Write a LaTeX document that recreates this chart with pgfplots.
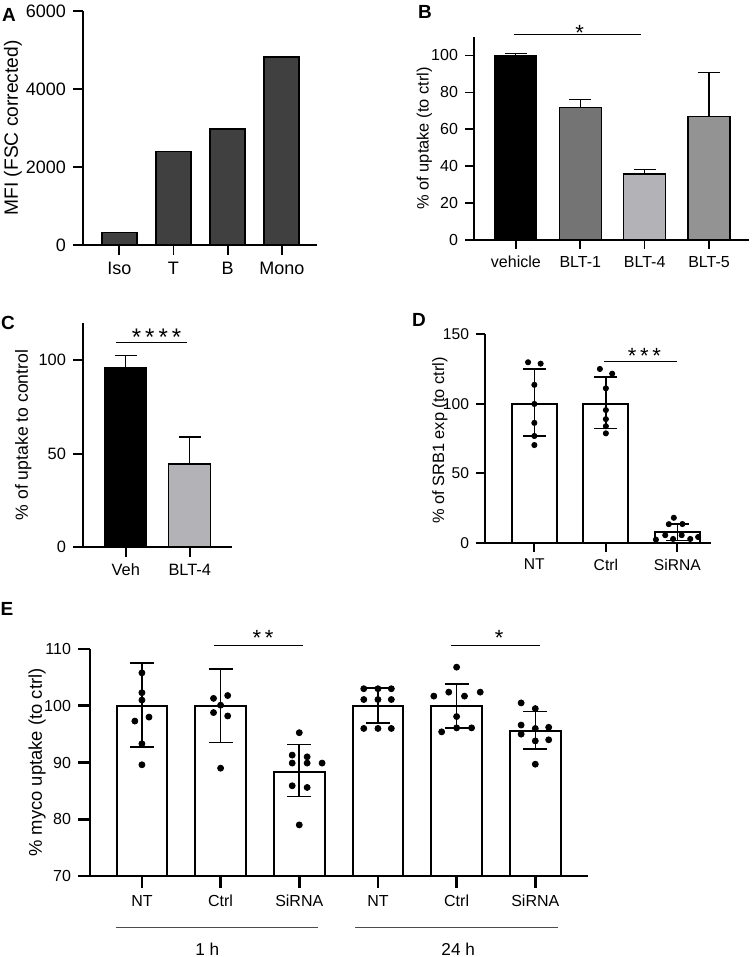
\documentclass[border=0pt]{standalone}
\usepackage{fontspec}
\setmainfont{Liberation Sans}
\usepackage{pgfplots}
\pgfplotsset{compat=1.18}
\newcommand{\fs}[1]{\fontsize{#1}{#1}\selectfont}
\definecolor{barA}{HTML}{404040}
\definecolor{blt1}{HTML}{747474}
\definecolor{blt4}{HTML}{B3B3B7}
\definecolor{blt5}{HTML}{939393}
\pgfplotsset{
  base/.style={
    scale only axis, axis lines=left, clip=false, enlargelimits=false,
    axis line style={-, black, line width=#1},
    tick style={black, line width=#1},
    tick align=outside,
    /pgf/number format/assume math mode=true,
    /pgf/number format/set thousands separator={},
    ylabel style={anchor=center},
  },
  onesided/.style={ybar, bar width=21pt, bar shift=0pt, draw=black, line width=0.6pt,
    error bars/y dir=plus, error bars/y explicit,
    error bars/error bar style={black, line width=0.6pt},
    error bars/error mark options={rotate=90, black, line width=0.6pt, mark size=5.5pt}},
}
\begin{document}
\begin{tikzpicture}
\path[use as bounding box] (0,0) rectangle (377pt,478.5pt);

% ---------- A ----------
\begin{axis}[base=0.9pt, at={(41.5pt,356pt)}, anchor=south west,
  width=117pt, height=117pt, major tick length=5pt,
  xmin=-0.67, xmax=3.65, ymin=0, ymax=6000,
  xtick={0,1,2,3}, xticklabels={Iso,T,B,Mono},
  ytick={0,2000,4000,6000},
  tick label style={font=\fs{9}},
  ylabel={MFI (FSC corrected)},
  ylabel style={at={(axis description cs:-0.30,0.5)}, font=\fs{9.6}}]
\addplot[ybar, bar width=17.5pt, bar shift=0pt, fill=barA, draw=black, line width=0.8pt]
  coordinates {(0,320) (1,2400) (2,2980) (3,4820)};
\end{axis}

% ---------- B ----------
\begin{axis}[base=0.8pt, at={(237pt,358.5pt)}, anchor=south west,
  width=137.5pt, height=101.5pt, major tick length=4.5pt,
  xmin=-0.65, xmax=3.62, ymin=0, ymax=110,
  xtick={0,1,2,3}, xticklabels={vehicle,BLT-1,BLT-4,BLT-5},
  ytick={0,20,40,60,80,100},
  tick label style={font=\fs{8}},
  ylabel={\% of uptake (to ctrl)},
  ylabel style={at={(axis description cs:-0.18,0.5)}, font=\fs{8.2}}]
\addplot[onesided, fill=black] coordinates {(0,100) +- (0,0.9)};
\addplot[onesided, fill=blt1] coordinates {(1,71.8) +- (0,4.5)};
\addplot[onesided, fill=blt4] coordinates {(2,35.8) +- (0,2.2)};
\addplot[onesided, fill=blt5] coordinates {(3,66.9) +- (0,23.7)};
\draw[black, line width=0.5pt] (axis cs:-0.03,111.2) -- (axis cs:1.95,111.2);
\node[anchor=base, font=\fs{11}] at (axis cs:0.99,108.1) {*};
\end{axis}

% ---------- C ----------
\begin{axis}[base=0.9pt, at={(41.5pt,205pt)}, anchor=south west,
  width=74.5pt, height=112pt, major tick length=5pt,
  xmin=-0.67, xmax=1.66, ymin=0, ymax=120,
  xtick={0,1}, xticklabels={Veh,BLT-4},
  ytick={0,50,100},
  tick label style={font=\fs{8.2}},
  ylabel={\% of uptake to control},
  ylabel style={at={(axis description cs:-0.40,0.5)}, font=\fs{8.8}}]
\addplot[onesided, fill=black] coordinates {(0,96.2) +- (0,6.3)};
\addplot[onesided, fill=blt4] coordinates {(1,44.5) +- (0,14.4)};
\draw[black, line width=0.5pt] (axis cs:-0.16,109.6) -- (axis cs:0.95,109.6);
\node[anchor=base, font=\fs{12}] at (axis cs:0.48,108.1) {*\,*\,*\,*};
\end{axis}

% ---------- D ----------
\begin{axis}[base=1.1pt, at={(242.5pt,207pt)}, anchor=south west,
  width=113pt, height=104.5pt, major tick length=4.5pt,
  xmin=-0.69, xmax=2.47, ymin=0, ymax=150,
  xtick={0,1,2}, xticklabels={NT,Ctrl,SiRNA},
  ytick={0,50,100,150},
  tick label style={font=\fs{7.8}},
  ylabel={\% of SRB1 exp (to ctrl)},
  ylabel style={at={(axis description cs:-0.20,0.49)}, font=\fs{8.2}}]
\addplot[ybar, bar width=22.5pt, bar shift=0pt, fill=white, draw=black, line width=0.9pt,
  error bars/y dir=both, error bars/y explicit,
  error bars/error bar style={black, line width=0.8pt},
  error bars/error mark options={rotate=90, black, line width=0.8pt, mark size=5.8pt}]
  coordinates {(0,100) += (0,24.9) -= (0,23.2)
               (1,100) += (0,19.1) -= (0,17.9)
               (2,7.66) += (0,5.8) -= (0,5.8)};
\addplot[only marks, mark=*, mark size=1.3pt, black] coordinates {
  (-0.088,129.7) (0.088,128.7) (0,113.5) (0,99.8) (0,86.2) (0,76.8) (0,70.3)
  (0.916,124.9) (1.088,121.5) (1,111) (1,95.4) (1,88.9) (1,83.8) (1,78.7)
  (1.70,2.4) (1.83,5.6) (1.94,2.9) (2.06,5.6) (2.18,2.9) (2.29,4.3)
  (1.88,13.5) (2.07,13.6) (1.95,18.1)};
\draw[black, line width=0.5pt] (axis cs:0.98,129.9) -- (axis cs:2.0,129.9);
\node[anchor=base, font=\fs{11}] at (axis cs:1.54,128.6) {*\,*\,*};
\end{axis}

% ---------- E ----------
\begin{axis}[base=1.3pt, at={(45pt,40.5pt)}, anchor=south west,
  width=249pt, height=113.5pt, major tick length=6pt,
  clip=true, clip mode=individual,
  xmin=-0.66, xmax=5.67, ymin=70, ymax=110,
  xtick={0,1,2,3,4,5}, xticklabels={NT,Ctrl,SiRNA,NT,Ctrl,SiRNA},
  ytick={70,80,90,100,110},
  tick label style={font=\fs{8}},
  ylabel={\% myco uptake (to ctrl)},
  ylabel style={at={(axis description cs:-0.106,0.5)}, font=\fs{9.2}}]
\addplot[ybar, bar width=25.3pt, bar shift=0pt, fill=white, draw=black, line width=1pt,
  error bars/y dir=both, error bars/y explicit,
  error bars/error bar style={black, line width=0.8pt},
  error bars/error mark options={rotate=90, black, line width=0.8pt, mark size=6pt}]
  coordinates {(0,100) += (0,7.5) -= (0,7.3)
               (1,100) += (0,6.5) -= (0,6.45)
               (2,88.4) += (0,4.8) -= (0,4.4)
               (3,100) += (0,3.1) -= (0,3.0)
               (4,100) += (0,3.8) -= (0,3.9)
               (5,95.6) += (0,3.4) -= (0,3.2)};
\addplot[only marks, mark=*, mark size=1.5pt, black] coordinates {
  (0,105.8) (0,102.3) (0,101.0) (0.09,98.0) (-0.09,97.3) (0,93.3) (0,89.6)
  (1.09,101.8) (0.91,101.3) (1,100.1) (0.91,98.8) (1.09,98.2) (1,89.0)
  (2,95.25) (1.91,91.3) (2.1,91.0) (1.91,89.9) (2.1,89.9) (2.29,89.9) (1.91,85.9) (2.1,85.6) (2,79.0)
  (2.82,103) (3,103) (3.17,103) (2.82,101.1) (3,101.1) (3.17,101.1) (2.82,96) (3,96) (3.17,96)
  (4,106.8) (3.71,101.7) (3.90,102.4) (4.10,101.7) (4.30,102.4) (4,98.1) (4,96.1) (4.19,96.1) (3.81,95.4)
  (4.82,100.5) (5,99.5) (4.82,96.6) (5,96.0) (5.17,96.2) (4.82,95.0) (5,93.8) (5.17,94.0) (5,89.7)};
\draw[black, line width=0.5pt] (axis cs:0.915,110.7) -- (axis cs:2.05,110.7);
\node[anchor=base, font=\fs{11}] at (axis cs:1.54,110.56) {*\,*};
\draw[black, line width=0.5pt] (axis cs:3.93,110.7) -- (axis cs:5.06,110.7);
\node[anchor=base, font=\fs{11}] at (axis cs:4.54,110.56) {*};
\draw[black!70, line width=0.5pt] (axis cs:-0.33,61) -- (axis cs:2.24,61);
\draw[black!70, line width=0.5pt] (axis cs:2.71,61) -- (axis cs:5.29,61);
\node[font=\fs{8.6}] at (axis cs:0.83,57.1) {1 h};
\node[font=\fs{8.6}] at (axis cs:4.02,57.1) {24 h};
\end{axis}

% panel letters
\node[font=\bfseries\fs{9.5}] at (4.5pt,471pt) {A};
\node[font=\bfseries\fs{9.5}] at (212.5pt,472.5pt) {B};
\node[font=\bfseries\fs{9.5}] at (4pt,317pt) {C};
\node[font=\bfseries\fs{9.5}] at (209.5pt,318.5pt) {D};
\node[font=\bfseries\fs{9.5}] at (3.5pt,174pt) {E};
\end{tikzpicture}
\end{document}
